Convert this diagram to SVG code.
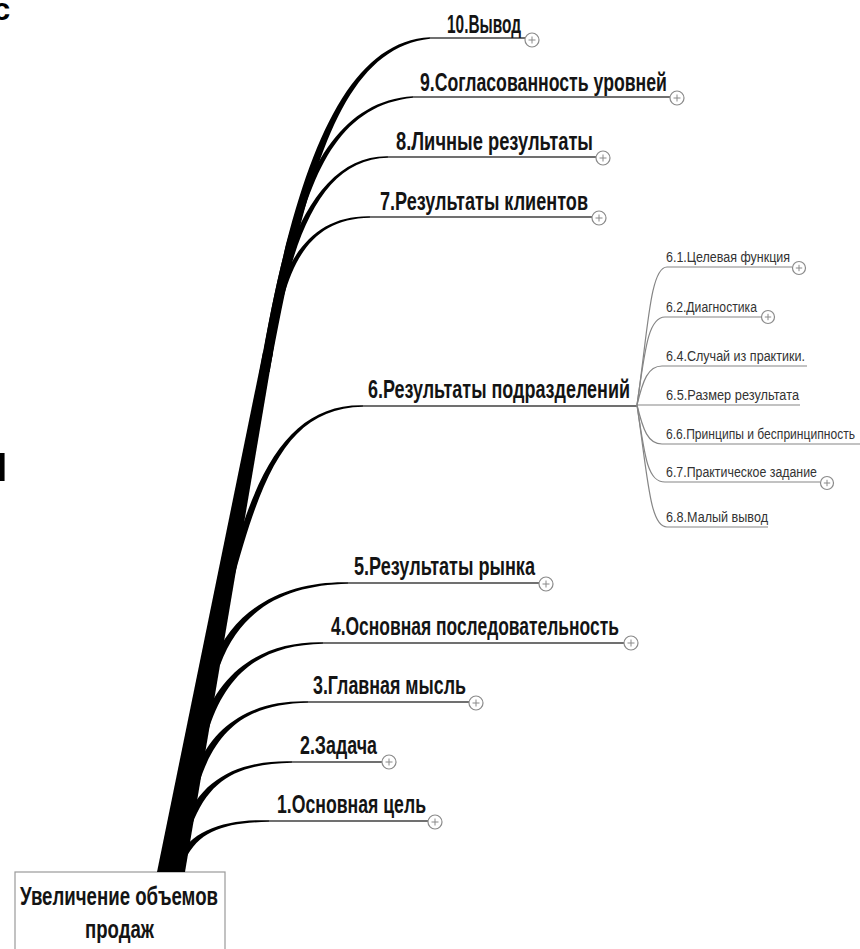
<svg xmlns="http://www.w3.org/2000/svg" width="860" height="949" viewBox="0 0 860 949">
<style>
.t1{font-family:"Liberation Sans",Arial,sans-serif;font-weight:bold;font-size:25px;fill:#141414}
.t2{font-family:"Liberation Sans",Arial,sans-serif;font-size:15px;fill:#333}
.tr{font-family:"Liberation Sans",Arial,sans-serif;font-weight:bold;font-size:25px;fill:#141414}
.frag{font-family:"Liberation Sans",Arial,sans-serif;fill:#000}
.br{fill:#000;stroke:none}
.ul{fill:none;stroke:#707070;stroke-width:1.8}
.sl{fill:none;stroke:#858585;stroke-width:1.2}
.pc{fill:#fff;stroke:#8a8a8a;stroke-width:1.2}
.pl{stroke:#8a8a8a;stroke-width:1}
</style>
<rect width="860" height="949" fill="#fff"/>
<text class="frag" x="-7" y="20" font-size="31" font-weight="bold">с</text>
<text class="frag" x="-21.5" y="481" font-size="54">н</text>

<g id="root">
<rect x="15" y="872" width="210" height="90" fill="#fff" stroke="#9a9a9a" stroke-width="1.2"/>
<text class="tr" transform="translate(20,905) scale(0.8,1)" textLength="247.5" lengthAdjust="spacingAndGlyphs">Увеличение объемов</text>
<text class="tr" transform="translate(85,938) scale(0.8,1)" textLength="86.25" lengthAdjust="spacingAndGlyphs">продаж</text>
</g>

<g id="connectors">
<path class="br" d="M157,872 L185,872 L273,352 L263,352 Z"/>
<path class="br" d="M177,860 C190.5,830 225,819 269,820.3 L269,821.7 C225,823 199.5,830 185,860 Z"/>
<path class="br" d="M184,825 C200.5,778 240,760 292,761.3 L292,762.7 C240,764 209.5,778 192,825 Z"/>
<path class="br" d="M192,780 C210.5,722 255,700 308,701.3 L308,702.7 C255,704 219.5,722 200,780 Z"/>
<path class="br" d="M201,728 C220.5,665 270,641 323,642.3 L323,643.7 C270,645 229.5,665 209,728 Z"/>
<path class="br" d="M212,665 C233.5,605 290,581 348,582.3 L348,583.7 C290,585 242.5,605 220,665 Z"/>
<path class="br" d="M226,585 C253.5,470 290,404 363,405.3 L363,406.7 C290,408 262.5,470 232,585 Z"/>
<path class="br" d="M265.5,354 C276,270 305,215.2 370,216.3 L370,217.7 C305,218.8 284,270 272.5,354 Z"/>
<path class="br" d="M264,358 C280.5,240 320,155 388,156.3 L388,157.7 C320,159 289.5,240 272,358 Z"/>
<path class="br" d="M261.5,364 C287,210 320,102.5 413,96.3 L413,97.7 C320,107.5 297,210 270.5,364 Z"/>
<path class="br" d="M259.5,372 C294,175 340,41.5 430,37.2 L430,38.8 C340,48.5 306,175 269.5,372 Z"/>
<path class="ul" d="M430,38 H525"/>
<path class="ul" d="M413,97 H670"/>
<path class="ul" d="M388,157 H596"/>
<path class="ul" d="M370,217 H592"/>
<path class="ul" d="M363,406 H637"/>
<path class="ul" d="M348,583 H539"/>
<path class="ul" d="M323,643 H624"/>
<path class="ul" d="M308,702 H469"/>
<path class="ul" d="M292,762 H382"/>
<path class="ul" d="M269,821 H428"/>
<path class="sl" d="M637,405 C648,330 650,267 667,267 H792"/>
<path class="sl" d="M637,405 C645,350 648,317 665,317 H761"/>
<path class="sl" d="M637,405 C643,380 648,366 662,366 H807"/>
<path class="sl" d="M637,405 H800"/>
<path class="sl" d="M637,405 C643,430 648,444 662,444 H860"/>
<path class="sl" d="M637,405 C645,460 648,482 665,482 H820"/>
<path class="sl" d="M637,405 C648,480 650,527 667,527 H768"/>
</g>

<g id="n10"><text class="t1" transform="translate(447,33) scale(0.8,1)" textLength="92.5" lengthAdjust="spacingAndGlyphs">10.Вывод</text>
<circle class="pc" cx="532" cy="40" r="7"/><path class="pl" d="M528.5,40 H535.5 M532,36.5 V43.5"/></g>
<g id="n9"><text class="t1" transform="translate(420,91) scale(0.8,1)" textLength="308.75" lengthAdjust="spacingAndGlyphs">9.Согласованность уровней</text>
<circle class="pc" cx="677" cy="98" r="7"/><path class="pl" d="M673.5,98 H680.5 M677,94.5 V101.5"/></g>
<g id="n8"><text class="t1" transform="translate(396,150) scale(0.8,1)" textLength="246.25" lengthAdjust="spacingAndGlyphs">8.Личные результаты</text>
<circle class="pc" cx="603" cy="158" r="7"/><path class="pl" d="M599.5,158 H606.5 M603,154.5 V161.5"/></g>
<g id="n7"><text class="t1" transform="translate(380,210) scale(0.8,1)" textLength="260" lengthAdjust="spacingAndGlyphs">7.Результаты клиентов</text>
<circle class="pc" cx="599" cy="218" r="7"/><path class="pl" d="M595.5,218 H602.5 M599,214.5 V221.5"/></g>
<g id="n6"><text class="t1" transform="translate(368,398) scale(0.8,1)" textLength="327.5" lengthAdjust="spacingAndGlyphs">6.Результаты подразделений</text></g>
<g id="n6_1"><text class="t2" transform="translate(666,262) scale(0.8,1)" textLength="155" lengthAdjust="spacingAndGlyphs">6.1.Целевая функция</text>
<circle class="pc" cx="799" cy="268" r="6.5"/><path class="pl" d="M795.8,268 H802.2 M799,264.8 V271.2"/></g>
<g id="n6_2"><text class="t2" transform="translate(666,312) scale(0.8,1)" textLength="113.75" lengthAdjust="spacingAndGlyphs">6.2.Диагностика</text>
<circle class="pc" cx="768" cy="317" r="6.5"/><path class="pl" d="M764.8,317 H771.2 M768,313.8 V320.2"/></g>
<g id="n6_4"><text class="t2" transform="translate(666,361) scale(0.8,1)" textLength="173.75" lengthAdjust="spacingAndGlyphs">6.4.Случай из практики.</text></g>
<g id="n6_5"><text class="t2" transform="translate(666,400) scale(0.8,1)" textLength="166.25" lengthAdjust="spacingAndGlyphs">6.5.Размер результата</text></g>
<g id="n6_6"><text class="t2" transform="translate(666,439) scale(0.8,1)" textLength="236.25" lengthAdjust="spacingAndGlyphs">6.6.Принципы и беспринципность</text></g>
<g id="n6_7"><text class="t2" transform="translate(666,477) scale(0.8,1)" textLength="188.75" lengthAdjust="spacingAndGlyphs">6.7.Практическое задание</text>
<circle class="pc" cx="827" cy="483" r="6.5"/><path class="pl" d="M823.8,483 H830.2 M827,479.8 V486.2"/></g>
<g id="n6_8"><text class="t2" transform="translate(666,522) scale(0.8,1)" textLength="127.5" lengthAdjust="spacingAndGlyphs">6.8.Малый вывод</text></g>
<g id="n5"><text class="t1" transform="translate(354,575) scale(0.8,1)" textLength="226.25" lengthAdjust="spacingAndGlyphs">5.Результаты рынка</text>
<circle class="pc" cx="546" cy="584" r="7"/><path class="pl" d="M542.5,584 H549.5 M546,580.5 V587.5"/></g>
<g id="n4"><text class="t1" transform="translate(331,635) scale(0.8,1)" textLength="360" lengthAdjust="spacingAndGlyphs">4.Основная последовательность</text>
<circle class="pc" cx="631" cy="643" r="7"/><path class="pl" d="M627.5,643 H634.5 M631,639.5 V646.5"/></g>
<g id="n3"><text class="t1" transform="translate(313,694) scale(0.8,1)" textLength="191.25" lengthAdjust="spacingAndGlyphs">3.Главная мысль</text>
<circle class="pc" cx="476" cy="703" r="7"/><path class="pl" d="M472.5,703 H479.5 M476,699.5 V706.5"/></g>
<g id="n2"><text class="t1" transform="translate(300,754) scale(0.8,1)" textLength="96.25" lengthAdjust="spacingAndGlyphs">2.Задача</text>
<circle class="pc" cx="389" cy="762" r="7"/><path class="pl" d="M385.5,762 H392.5 M389,758.5 V765.5"/></g>
<g id="n1"><text class="t1" transform="translate(277,813) scale(0.8,1)" textLength="186.25" lengthAdjust="spacingAndGlyphs">1.Основная цель</text>
<circle class="pc" cx="435" cy="822" r="7"/><path class="pl" d="M431.5,822 H438.5 M435,818.5 V825.5"/></g>
</svg>
